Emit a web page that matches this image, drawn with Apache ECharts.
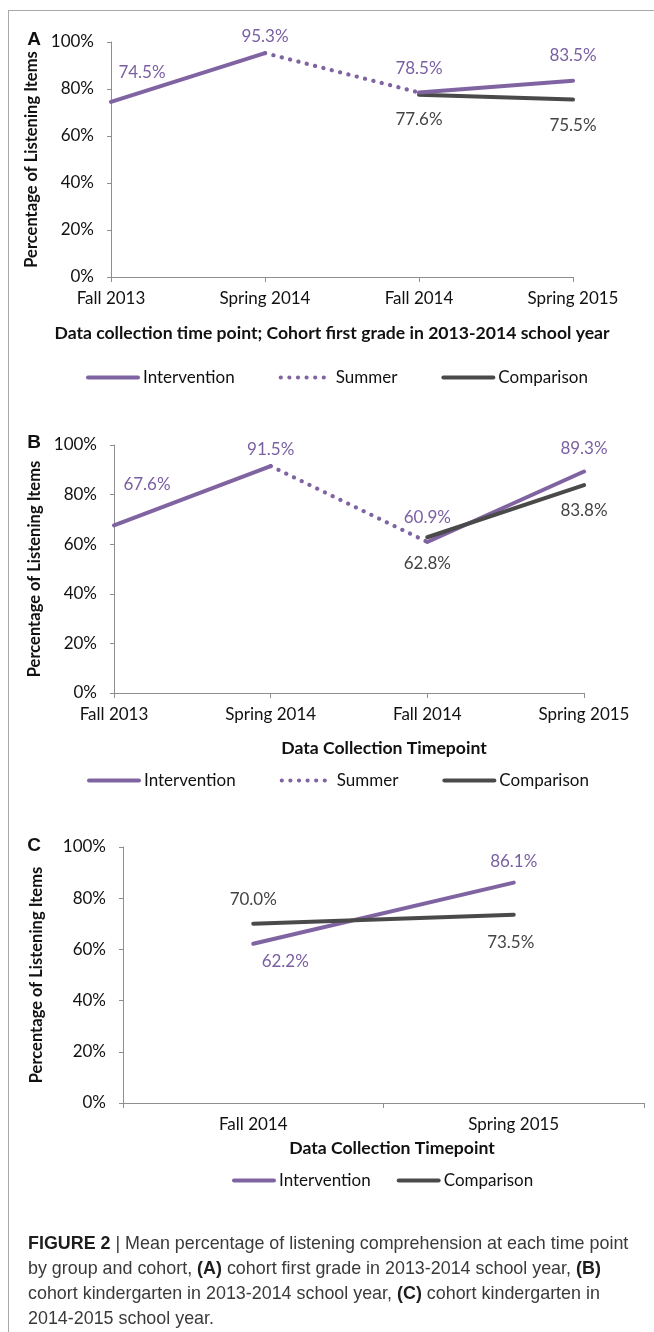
<!DOCTYPE html>
<html>
<head>
<meta charset="utf-8">
<script src="https://cdn.jsdelivr.net/npm/echarts@6/dist/echarts.min.js"></script>
<style>
  html, body { margin: 0; padding: 0; background: #fff; }
  #wrap { position: relative; width: 654px; height: 1332px; overflow: hidden; }
  #frame { position: absolute; left: 8px; top: 10px; width: 700px; height: 1400px;
           border-left: 1px solid #a8a8a8; border-top: 1px solid #a8a8a8; }
  #chart { position: absolute; left: 0; top: 0; width: 654px; height: 1332px; }
  #caption { position: absolute; left: 28px; top: 1231px; width: 624px;
             font-family: "Liberation Sans", Arial, sans-serif; font-size: 17.9px;
             line-height: 25px; color: #3a3a3a; white-space: nowrap; }
  #caption b { color: #1e1e1e; }
</style>
</head>
<body>
<div id="wrap">
  <div id="frame"></div>
  <div id="chart"></div>
  <div id="caption">
    <b>FIGURE 2</b> | Mean percentage of listening comprehension at each time point<br>
    by group and cohort, <b>(A)</b> cohort first grade in 2013-2014 school year, <b>(B)</b><br>
    cohort kindergarten in 2013-2014 school year, <b>(C)</b> cohort kindergarten in<br>
    2014-2015 school year.
  </div>
</div>
<script>
// Time points
const catsAB = ['Fall 2013', 'Spring 2014', 'Fall 2014', 'Spring 2015'];
const catsC = ['Fall 2014', 'Spring 2015'];

// Panel A: cohort first grade in 2013-2014
const aIntervention = [74.5, 95.3, 78.5, 83.5];
const aComparison = [null, null, 77.6, 75.5];

// Panel B: cohort kindergarten in 2013-2014
const bIntervention = [67.6, 91.5, 60.9, 89.3];
const bComparison = [null, null, 62.8, 83.8];

// Panel C: cohort kindergarten in 2014-2015
const cIntervention = [62.2, 86.1];
const cComparison = [70.0, 73.5];

// Axis ticks
const yMin = 0, yMax = 100, yStep = 20;

const legendAB = ['Intervention', 'Summer', 'Comparison'];
const legendC = ['Intervention', 'Comparison'];

const xTitleA = 'Data collection time point; Cohort first grade in 2013-2014 school year';
const xTitleBC = 'Data Collection Timepoint';
const yTitle = 'Percentage of Listening Items';

// ---- styling ----
const PURPLE = '#8064A2';
const PURPLE_TXT = '#7A5FA2';
const GREY = '#4A4A4A';
const GREY_TXT = '#444444';
const AXIS = '#8e8e8e';
const FONT = 'Lato';

// where each value label sits relative to its point [dx, dy]
const labelOffsets = {
  aInt: [[31, -29], [0, -17], [0, -24], [0, -25]],
  aCmp: [null, null, [0, 25], [0, 26]],
  bInt: [[33, -41], [0, -17], [0, -24], [0, -23]],
  bCmp: [null, null, [0, 26], [0, 25]],
  cInt: [[32, 18], [0, -21]],
  cCmp: [[0, -24], [-3, 28]]
};

// keep only the given indices of a series, with gaps elsewhere
function pick(values, idxs, offsets, color) {
  return values.map((v, i) => {
    if (v == null || idxs.indexOf(i) < 0) return '-';
    if (!offsets || !offsets[i]) return v;
    return {
      value: v,
      label: {
        show: true, position: 'inside', offset: offsets[i],
        color: color, fontFamily: FONT, fontSize: 17,
        formatter: p => p.value.toFixed(1) + '%'
      }
    };
  });
}

function lineSeries(name, data, color, idx, extra) {
  return Object.assign({
    name: name, type: 'line', data: data,
    xAxisIndex: idx, yAxisIndex: idx,
    symbol: 'circle', symbolSize: 1, showSymbol: true,
    itemStyle: { color: color },
    lineStyle: { color: color, width: 4, cap: 'round', join: 'round' },
    label: { show: false },
    emphasis: { disabled: true },
    silent: true
  }, extra || {});
}

const dotted = { lineStyle: { color: PURPLE, width: 4.2, type: [0.2, 8.4], cap: 'round' } };

const grids = [
  { left: 111, top: 42, width: 462, height: 235 },
  { left: 114, top: 445, width: 470, height: 248 },
  { left: 123, top: 847, width: 521, height: 256 }
];

function xAxis(idx, cats, gap) {
  return {
    type: 'category', gridIndex: idx, data: cats, boundaryGap: gap,
    axisLine: { lineStyle: { color: AXIS, width: 1 } },
    axisTick: { show: true, length: 5, lineStyle: { color: AXIS } },
    axisLabel: { color: '#111', fontFamily: FONT, fontSize: 17, margin: 13 },
    splitLine: { show: false }
  };
}

function yAxis(idx, gapName) {
  return {
    type: 'value', gridIndex: idx, min: yMin, max: yMax, interval: yStep,
    name: yTitle, nameLocation: 'middle', nameGap: gapName,
    nameTextStyle: { color: '#111', fontFamily: FONT, fontSize: 16.5, fontWeight: 'bold' },
    axisLine: { show: true, lineStyle: { color: AXIS, width: 1 } },
    axisTick: { show: true, length: 4, lineStyle: { color: AXIS } },
    axisLabel: { color: '#111', fontFamily: FONT, fontSize: 17, margin: 17, formatter: '{value}%' },
    splitLine: { show: false }
  };
}

function legend(names, left, top, w, gap) {
  return {
    data: names, left: left, top: top, orient: 'horizontal',
    itemWidth: w, itemHeight: 14, itemGap: gap, padding: 0,
    selectedMode: false,
    itemStyle: { opacity: 0 },
    lineStyle: { width: 4 },
    textStyle: { color: '#111', fontFamily: FONT, fontSize: 17 }
  };
}

function panelLetter(t, x, y) {
  return { type: 'text', x: x, y: y, style: { text: t, font: 'bold 19px "Liberation Sans", Arial',
           fill: '#111', textAlign: 'center', textVerticalAlign: 'middle' } };
}
function axisTitle(t, x, y) {
  return { type: 'text', x: x, y: y, style: { text: t, font: 'bold 17.6px Lato',
           fill: '#111', textAlign: 'center', textVerticalAlign: 'middle' } };
}

const option = {
  animation: false,
  backgroundColor: 'transparent',
  grid: grids,
  xAxis: [xAxis(0, catsAB, false), xAxis(1, catsAB, false), xAxis(2, catsC, true)],
  yAxis: [yAxis(0, 66), yAxis(1, 70), yAxis(2, 78)],
  legend: [
    legend(legendAB, 86, 369, 50, 44),
    legend(legendAB, 87, 772, 50, 44),
    legend(legendC, 232, 1172, 40, 26)
  ],
  graphic: [
    panelLetter('A', 34, 40),
    panelLetter('B', 34, 443),
    panelLetter('C', 34, 846),
    axisTitle(xTitleA, 332, 333),
    axisTitle(xTitleBC, 384, 748),
    axisTitle(xTitleBC, 392, 1148)
  ],
  series: [
    // A
    lineSeries('Intervention', pick(aIntervention, [0, 1], labelOffsets.aInt, PURPLE_TXT), PURPLE, 0),
    lineSeries('Summer', pick(aIntervention, [1, 2]), PURPLE, 0, dotted),
    lineSeries('Comparison', pick(aComparison, [2, 3], labelOffsets.aCmp, GREY_TXT), GREY, 0),
    lineSeries('Intervention', pick(aIntervention, [2, 3], labelOffsets.aInt, PURPLE_TXT), PURPLE, 0),
    // B
    lineSeries('Intervention', pick(bIntervention, [0, 1], labelOffsets.bInt, PURPLE_TXT), PURPLE, 1),
    lineSeries('Summer', pick(bIntervention, [1, 2]), PURPLE, 1, dotted),
    lineSeries('Intervention', pick(bIntervention, [2, 3], labelOffsets.bInt, PURPLE_TXT), PURPLE, 1),
    lineSeries('Comparison', pick(bComparison, [2, 3], labelOffsets.bCmp, GREY_TXT), GREY, 1),
    // C
    lineSeries('Intervention', pick(cIntervention, [0, 1], labelOffsets.cInt, PURPLE_TXT), PURPLE, 2),
    lineSeries('Comparison', pick(cComparison, [0, 1], labelOffsets.cCmp, GREY_TXT), GREY, 2)
  ]
};

const chart = echarts.init(document.getElementById('chart'), null, { renderer: 'canvas' });
chart.setOption(option);
</script>
</body>
</html>
